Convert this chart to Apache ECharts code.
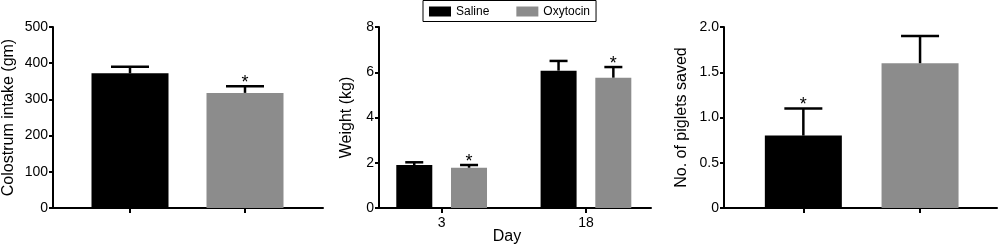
<!DOCTYPE html>
<html>
<head>
<meta charset="utf-8">
<script src="https://cdn.jsdelivr.net/npm/echarts@6/dist/echarts.min.js"></script>
<style>
  html, body { margin: 0; padding: 0; background: #fff; }
  #chart { width: 1000px; height: 247px; }
</style>
</head>
<body>
<div id="chart"></div>
<script>
// panel A: colostrum intake
var colostrumGroups = ["Saline", "Oxytocin"];
var colostrumMean = [372, 318];
var colostrumSem = [18, 18];
var colostrumSig = [0, 1];

// panel B: body weight by day
var weightDays = ["3", "18"];
var weightSaline = [1.9, 6.07];
var weightSalineSem = [0.12, 0.43];
var weightSalineSig = [0, 0];
var weightOxytocin = [1.78, 5.76];
var weightOxytocinSem = [0.12, 0.47];
var weightOxytocinSig = [1, 1];

// panel C: piglets saved
var pigletGroups = ["Saline", "Oxytocin"];
var pigletMean = [0.8, 1.6];
var pigletSem = [0.3, 0.3];
var pigletSig = [1, 0];

var BLACK = "#000000";
var GREY = "#8c8c8c";
var FONT = "Liberation Sans";

function errData(mean, sem, sig) {
  return mean.map(function (m, i) {
    return [i, m, sem[i], sig[i]];
  });
}

// upper error bar + cap, with an asterisk above when significant
function errRender(offset, capHalf) {
  return function (params, api) {
    var i = api.value(0);
    var base = api.coord([i, api.value(1)]);
    var top = api.coord([i, api.value(1) + api.value(2)]);
    var cx = base[0] + offset;
    var kids = [
      { type: "line", shape: { x1: cx, y1: base[1], x2: cx, y2: top[1] },
        style: { stroke: "#000", lineWidth: 2.5 } },
      { type: "line", shape: { x1: cx - capHalf, y1: top[1], x2: cx + capHalf, y2: top[1] },
        style: { stroke: "#000", lineWidth: 2.5 } }
    ];
    if (api.value(3)) {
      kids.push({
        type: "text",
        style: { text: "*", x: cx, y: top[1] + 6, align: "center", verticalAlign: "bottom",
          fontSize: 18, fontFamily: FONT, fill: "#000" }
      });
    }
    return { type: "group", children: kids };
  };
}

function wideY(gi, min, max, interval, name, gap, fmt) {
  return {
    type: "value", gridIndex: gi, min: min, max: max, interval: interval,
    name: name, nameLocation: "middle", nameGap: gap,
    nameTextStyle: { fontSize: 16, fontFamily: FONT, color: "#000" },
    axisLine: { show: true, lineStyle: { color: "#000", width: 2 } },
    axisTick: { show: true, length: 4, lineStyle: { color: "#000", width: 2 } },
    axisLabel: { fontSize: 14, fontFamily: FONT, color: "#000", margin: 5, formatter: fmt },
    splitLine: { show: false }
  };
}
function hiddenY(gi, min, max) {
  return { type: "value", gridIndex: gi, min: min, max: max, show: false, splitLine: { show: false } };
}
function wideX(gi) {
  return {
    type: "value", gridIndex: gi, min: 0, max: 1,
    axisLine: { show: true, onZero: false, lineStyle: { color: "#000", width: 2 } },
    axisTick: { show: false }, axisLabel: { show: false }, splitLine: { show: false }
  };
}
function catX(gi, cats, showLabel) {
  return {
    type: "category", gridIndex: gi, data: cats,
    axisLine: { show: false },
    axisTick: { show: true, alignWithLabel: true, length: 5, lineStyle: { color: "#000", width: 2 } },
    axisLabel: { show: showLabel, fontSize: 14, fontFamily: FONT, color: "#000", margin: 8 }
  };
}

var option = {
  animation: false,
  backgroundColor: "#fff",
  textStyle: { fontFamily: FONT },
  grid: [
    { left: 52, top: 27, width: 271, height: 181 },
    { left: 72.5, top: 27, width: 230, height: 181 },
    { left: 379, top: 27, width: 272, height: 181 },
    { left: 369.5, top: 27, width: 288.6, height: 181 },
    { left: 724, top: 27, width: 273, height: 181 },
    { left: 745, top: 27, width: 233.4, height: 181 }
  ],
  xAxis: [
    wideX(0), catX(1, colostrumGroups, false),
    wideX(2), catX(3, weightDays, true),
    wideX(4), catX(5, pigletGroups, false)
  ],
  yAxis: [
    wideY(0, 0, 500, 100, "Colostrum intake (gm)", 36),
    hiddenY(1, 0, 500),
    wideY(2, 0, 8, 2, "Weight (kg)", 24),
    hiddenY(3, 0, 8),
    wideY(4, 0, 2, 0.5, "No. of piglets saved", 34, function (v) { return v === 0 ? "0" : v.toFixed(1); }),
    hiddenY(5, 0, 2)
  ],
  legend: {
    data: ["Saline", "Oxytocin"],
    left: 423, top: 0.5,
    padding: [5, 6, 4, 6],
    itemWidth: 22, itemHeight: 10, itemGap: 27, icon: "rect",
    borderColor: "#000", borderWidth: 1,
    textStyle: { fontSize: 12, fontFamily: FONT, color: "#000", padding: [0, 0, 0, 0] }
  },
  graphic: [
    { type: "text", x: 507, y: 237,
      style: { text: "Day", align: "center", verticalAlign: "middle", fontSize: 16, fontFamily: FONT, fill: "#000" } }
  ],
  series: [
    {
      name: "colostrum", type: "bar", xAxisIndex: 1, yAxisIndex: 1, barWidth: 77,
      data: colostrumMean.map(function (v, i) {
        return { value: v, itemStyle: { color: i === 0 ? BLACK : GREY } };
      })
    },
    {
      type: "custom", xAxisIndex: 1, yAxisIndex: 1, z: 5,
      renderItem: errRender(0, 19), data: errData(colostrumMean, colostrumSem, colostrumSig)
    },
    {
      name: "Saline", type: "bar", xAxisIndex: 3, yAxisIndex: 3, barWidth: 36, barGap: "52%",
      itemStyle: { color: BLACK }, data: weightSaline
    },
    {
      name: "Oxytocin", type: "bar", xAxisIndex: 3, yAxisIndex: 3, barWidth: 36, barGap: "52%",
      itemStyle: { color: GREY }, data: weightOxytocin
    },
    {
      type: "custom", xAxisIndex: 3, yAxisIndex: 3, z: 5,
      renderItem: errRender(-27.4, 9), data: errData(weightSaline, weightSalineSem, weightSalineSig)
    },
    {
      type: "custom", xAxisIndex: 3, yAxisIndex: 3, z: 5,
      renderItem: errRender(27.4, 9), data: errData(weightOxytocin, weightOxytocinSem, weightOxytocinSig)
    },
    {
      name: "piglets", type: "bar", xAxisIndex: 5, yAxisIndex: 5, barWidth: 77,
      data: pigletMean.map(function (v, i) {
        return { value: v, itemStyle: { color: i === 0 ? BLACK : GREY } };
      })
    },
    {
      type: "custom", xAxisIndex: 5, yAxisIndex: 5, z: 5,
      renderItem: errRender(0, 19), data: errData(pigletMean, pigletSem, pigletSig)
    }
  ]
};

var myChart = echarts.init(document.getElementById("chart"), null, { renderer: "canvas" });
myChart.setOption(option);
</script>
</body>
</html>
